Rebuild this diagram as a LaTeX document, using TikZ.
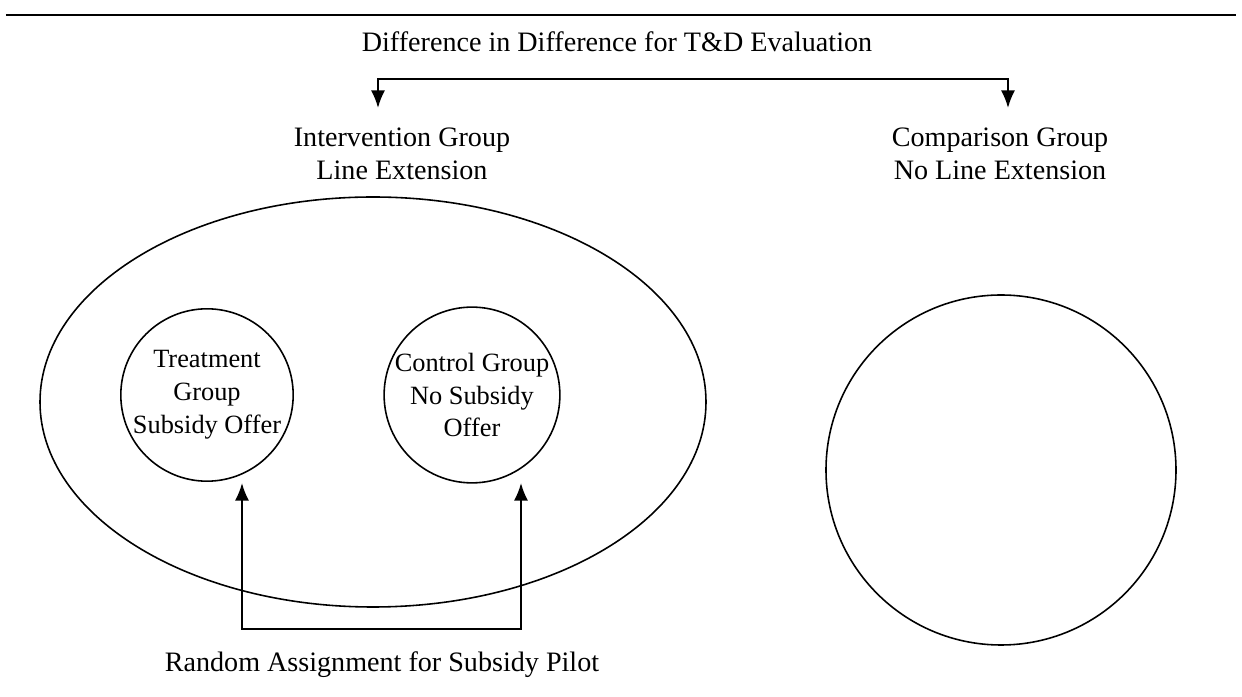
\documentclass[tikz,border=0pt]{standalone}
\usepackage{fontspec}
\setmainfont{Liberation Serif}
\usetikzlibrary{arrows.meta,positioning,shapes.geometric}
\tikzset{>={Latex[length=10pt,width=8pt]}}

\begin{document}
\begin{tikzpicture}[
    every node/.style={font=\fontsize{16}{18.7}\selectfont, align=center},
    grp/.style={draw, circle, line width=0.9pt, inner sep=0pt,
                font=\fontsize{15}{18.7}\selectfont},
    arr/.style={line width=1.1pt}]
    \useasboundingbox (0,0) rectangle (24.84,13.94);

    % Draw the top rule
    \coordinate (rulel) at (0.12,13.64);
    \coordinate (ruler) at (24.72,13.64);
    \draw[line width=1.6pt] (rulel) -- (ruler);

    % Title and group labels
    \node (title) at (12.34,13.1) {Difference in Difference for T\&D Evaluation};
    \node (interv) at (8.04,10.87) {Intervention Group\\Line Extension};
    \node (comp) at (20.0,10.87) {Comparison Group\\No Line Extension};

    % Draw the group shapes
    \node[draw, ellipse, line width=0.9pt, inner sep=0pt,
          minimum width=13.32cm, minimum height=8.2cm] (area) at (7.46,5.9) {};
    \node[grp, minimum size=3.42cm] (treat) at (4.14,6.04) {Treatment\\Group\\Subsidy Offer};
    \node[grp, minimum size=3.36cm] (ctrl) at (9.44,6.04) {Control Group\\No Subsidy\\Offer};
    \node[grp, minimum size=7.0cm] (compc) at (20.02,4.54) {};

    % Difference in difference arrows
    \coordinate (ddl) at (7.56,11.78);
    \coordinate (ddr) at (20.16,11.78);
    \draw[arr, <->] (ddl) -- ++(0,0.58) -| (ddr);

    % Random assignment arrows
    \coordinate (rl) at (4.84,4.28);
    \coordinate (rr) at (10.42,4.28);
    \draw[arr, <->] (rl) -- ++(0,-2.92) -| (rr);
    \node (rand) at (7.64,0.64) {Random Assignment for Subsidy Pilot};
\end{tikzpicture}
\end{document}
